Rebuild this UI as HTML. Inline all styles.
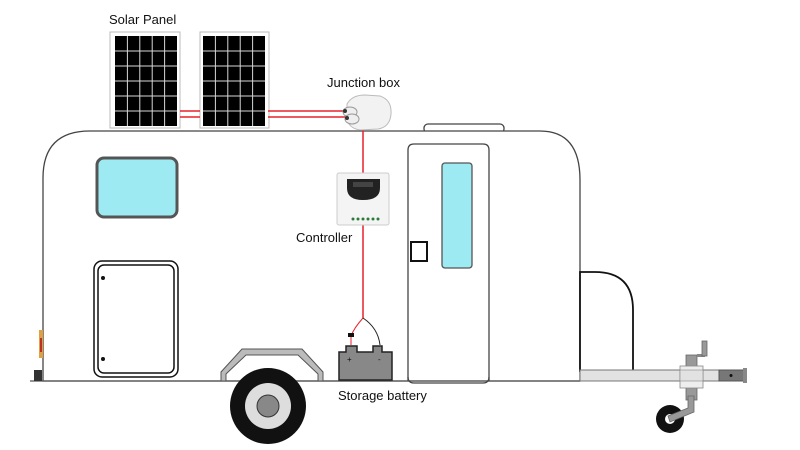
<!DOCTYPE html>
<html><head><meta charset="utf-8"><style>
html,body{margin:0;padding:0;background:#fff;}
svg{display:block;}
text{font-family:"Liberation Sans","DejaVu Sans",sans-serif;font-size:13px;fill:#111;}
</style></head><body>
<svg width="800" height="450" viewBox="0 0 800 450" xmlns="http://www.w3.org/2000/svg">
<rect width="800" height="450" fill="#fff"/>
<!-- roof bump -->
<rect x="424" y="124" width="80" height="9" rx="4" fill="#fff" stroke="#444" stroke-width="1.3"/>
<!-- body -->
<path d="M43 381 L43 178 Q43 131 90 131 L540 131 Q580 131 580 180 L580 381 Z" fill="#fff" stroke="#444" stroke-width="1.3"/>
<line x1="30" y1="381" x2="580" y2="381" stroke="#555" stroke-width="1.3"/>
<!-- taillight -->
<rect x="39" y="330" width="4" height="28" fill="#e0a040"/>
<rect x="40" y="338" width="2" height="14" fill="#c03020"/>
<rect x="34" y="370" width="8" height="11" fill="#333"/>
<!-- window -->
<rect x="97" y="158" width="80" height="59" rx="7" fill="#9eeaf2" stroke="#555" stroke-width="3"/>
<!-- hatch -->
<rect x="94" y="261" width="84" height="116" rx="8" fill="#fff" stroke="#111" stroke-width="1.5"/>
<rect x="98" y="265" width="76" height="108" rx="6" fill="none" stroke="#111" stroke-width="1.5"/>
<circle cx="103" cy="278" r="2" fill="#111"/><circle cx="103" cy="359" r="2" fill="#111"/>
<!-- door -->
<path d="M408 381 L408 150 Q408 144 414 144 L483 144 Q489 144 489 150 L489 381" fill="none" stroke="#444" stroke-width="1.3"/>
<path d="M408 377 Q408 383 414 383 L483 383 Q489 383 489 377" fill="none" stroke="#444" stroke-width="1.3"/>
<rect x="442" y="163" width="30" height="105" rx="3" fill="#9eeaf2" stroke="#555" stroke-width="1.3"/>
<rect x="411" y="242" width="16" height="19" fill="#fff" stroke="#111" stroke-width="2"/>
<!-- front box -->
<path d="M580 371 L580 272 L595 272 Q633 272 633 310 L633 371 Z" fill="#fff" stroke="#111" stroke-width="1.8"/>
<!-- tongue -->
<rect x="580" y="370" width="140" height="11" fill="#e2e2e2" stroke="#777" stroke-width="1"/>
<rect x="719" y="370" width="25" height="11" fill="#777" stroke="#555" stroke-width="1"/>
<circle cx="731" cy="375.5" r="1.5" fill="#111"/>
<rect x="743" y="368" width="4" height="15" fill="#888"/>
<!-- jack -->
<rect x="686" y="355" width="11" height="45" fill="#999" stroke="#666" stroke-width="0.8"/>
<rect x="697" y="354" width="8" height="3" fill="#888"/>
<rect x="702" y="341" width="5" height="15" fill="#999" stroke="#666" stroke-width="0.8"/>
<rect x="680" y="366" width="23" height="22" fill="#eee" stroke="#888" stroke-width="0.8"/>
<rect x="680" y="370" width="23" height="11" fill="#e2e2e2" stroke="#888" stroke-width="0.6"/>
<circle cx="670" cy="419" r="14" fill="#111"/>
<circle cx="670" cy="419" r="5" fill="#fff"/>
<path d="M694 396 L694 412 L670 422 L668 416 L688 408 L688 396 Z" fill="#999" stroke="#666" stroke-width="0.8"/>
<!-- fender -->
<path d="M221 381 L221 372 L242 349 L302 349 L323 372 L323 381 L318 381 L318 374 L298 355 L246 355 L226 374 L226 381 Z" fill="#bbb" stroke="#555" stroke-width="1"/>
<!-- wheel -->
<circle cx="268" cy="406" r="38" fill="#111"/>
<circle cx="268" cy="406" r="23" fill="#ddd"/>
<circle cx="268" cy="406" r="11" fill="#888" stroke="#333" stroke-width="1"/>
<!-- solar panels -->
<rect x="110" y="32" width="70" height="96" fill="#fff" stroke="#bbb" stroke-width="1"/>
<rect x="200" y="32" width="69" height="96" fill="#fff" stroke="#bbb" stroke-width="1"/>
<rect x="115" y="36" width="62" height="90" fill="#000"/>
<rect x="203" y="36" width="62" height="90" fill="#000"/>
<g stroke="#d8d8d8" stroke-width="1">
<line x1="127.4" y1="36" x2="127.4" y2="126"/><line x1="139.8" y1="36" x2="139.8" y2="126"/><line x1="152.2" y1="36" x2="152.2" y2="126"/><line x1="164.6" y1="36" x2="164.6" y2="126"/>
<line x1="215.4" y1="36" x2="215.4" y2="126"/><line x1="227.8" y1="36" x2="227.8" y2="126"/><line x1="240.2" y1="36" x2="240.2" y2="126"/><line x1="252.6" y1="36" x2="252.6" y2="126"/>
</g>
<g stroke="#d8d8d8" stroke-width="1">
<path d="M115 51H177M115 66H177M115 81H177M115 96H177M115 111H177"/>
<path d="M203 51H265M203 66H265M203 81H265M203 96H265M203 111H265"/>
</g>
<!-- red wires -->
<g stroke="#e8202a" stroke-width="1.5">
<line x1="180" y1="111" x2="200" y2="111"/><line x1="180" y1="117" x2="200" y2="117"/>
<line x1="268" y1="111" x2="345" y2="111"/><line x1="268" y1="117" x2="348" y2="117"/>
<line x1="363" y1="130" x2="363" y2="173"/>
<line x1="363" y1="225" x2="363" y2="318"/>
</g>
<!-- junction box -->
<path d="M347 104 Q352 95 365 95 L380 96 Q392 100 391 114 Q390 127 378 129 L360 130 Q348 128 347 118 Z" fill="#f2f2f2" stroke="#bbb" stroke-width="1"/>
<ellipse cx="350" cy="112" rx="7" ry="5" fill="#eee" stroke="#999"/>
<ellipse cx="352" cy="119" rx="7" ry="5" fill="#eee" stroke="#999"/>
<circle cx="345" cy="111" r="2" fill="#333"/><circle cx="347" cy="118" r="2" fill="#333"/>
<!-- controller -->
<rect x="337" y="173" width="52" height="52" rx="2" fill="#f4f4f4" stroke="#ccc" stroke-width="1"/>
<path d="M347 179 L380 179 L380 188 Q380 200 363 200 Q347 200 347 188 Z" fill="#222"/>
<rect x="353" y="182" width="20" height="5" fill="#444"/>
<g fill="#2a7a3a"><circle cx="353" cy="219" r="1.5"/><circle cx="358" cy="219" r="1.5"/><circle cx="363" cy="219" r="1.5"/><circle cx="368" cy="219" r="1.5"/><circle cx="373" cy="219" r="1.5"/><circle cx="378" cy="219" r="1.5"/></g>
<!-- battery wires -->
<path d="M363 318 Q354 328 351 336 L351 345" fill="none" stroke="#e8202a" stroke-width="1"/>
<path d="M363 318 Q378 328 380 345" fill="none" stroke="#222" stroke-width="1"/>
<rect x="348" y="333" width="6" height="4" fill="#111"/>
<!-- battery -->
<path d="M339 352 L346 352 L346 346 L357 346 L357 352 L373 352 L373 346 L382 346 L382 352 L392 352 L392 380 L339 380 Z" fill="#888" stroke="#222" stroke-width="1.5"/>
<text x="347" y="362" style="font-size:8px">+</text><text x="378" y="362" style="font-size:8px">-</text>
<!-- labels -->
<text x="109" y="24">Solar Panel</text>
<text x="327" y="87">Junction box</text>
<text x="296" y="242">Controller</text>
<text x="338" y="400">Storage battery</text>
</svg>
</body></html>
